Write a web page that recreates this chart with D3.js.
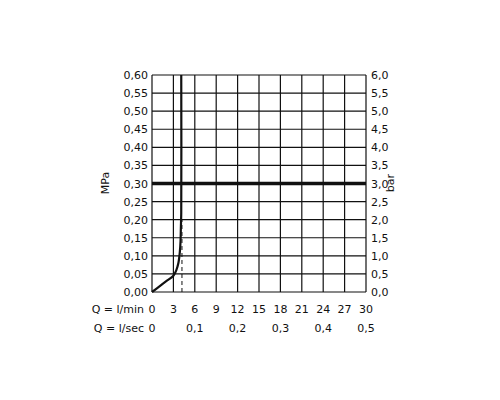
<!DOCTYPE html>
<html><head><meta charset="utf-8">
<script src="https://cdn.jsdelivr.net/npm/d3@7"></script>
<style>body{margin:0;background:#fff}text{font-family:"DejaVu Sans",sans-serif;font-size:11px;fill:#111}</style>
</head><body><div id="chart"></div>
<script>
const xTicks = [0, 3, 6, 9, 12, 15, 18, 21, 24, 27, 30]
const secTicks = [0, 0.1, 0.2, 0.3, 0.4, 0.5]
const yTicks = d3.range(0, 0.601, 0.05)
const curveQ = [0, 1, 2, 3, 3.4, 3.7, 3.9, 4.0, 4.05, 4.1, 4.1]
const curveP = [0, 0.015, 0.03, 0.045, 0.06, 0.08, 0.11, 0.14, 0.18, 0.22, 0.60]
const dashQ = 4.2
const refP = 0.30

const svg = d3.select("#chart").append("svg").attr("width", 500).attr("height", 400)
const x = d3.scaleLinear().domain([0, 30]).range([152, 366])
const y = d3.scaleLinear().domain([0, 0.6]).range([292, 75])
const fmt = d => d3.format(".2f")(d).replace(".", ",")
const fmt1 = d => d3.format(".1f")(d * 10).replace(".", ",")

svg.selectAll(".gx").data(xTicks).enter().append("line")
  .attr("x1", d => x(d)).attr("x2", d => x(d)).attr("y1", y(0)).attr("y2", y(0.6))
  .attr("stroke", "#111").attr("stroke-width", 1.2)
svg.selectAll(".gy").data(yTicks).enter().append("line")
  .attr("x1", x(0)).attr("x2", x(30)).attr("y1", d => y(d)).attr("y2", d => y(d))
  .attr("stroke", "#111").attr("stroke-width", 1.2)

svg.append("line").attr("x1", x(0)).attr("x2", x(30)).attr("y1", y(refP)).attr("y2", y(refP))
  .attr("stroke", "#111").attr("stroke-width", 3.5)
svg.append("line").attr("x1", x(dashQ)).attr("x2", x(dashQ)).attr("y1", y(0)).attr("y2", y(0.2))
  .attr("stroke", "#111").attr("stroke-width", 1).attr("stroke-dasharray", "4,3")

const line = d3.line().x((d, i) => x(curveQ[i])).y(d => y(d)).curve(d3.curveMonotoneY)
svg.append("path").datum(curveP).attr("d", d3.line().x((d, i) => x(curveQ[i])).y(d => y(d)).curve(d3.curveCatmullRom))
  .attr("fill", "none").attr("stroke", "#111").attr("stroke-width", 2.2)

svg.selectAll(".yl").data(yTicks).enter().append("text")
  .attr("x", 148).attr("y", d => y(d) + 4).attr("text-anchor", "end").text(fmt)
svg.selectAll(".yr").data(yTicks).enter().append("text")
  .attr("x", 371).attr("y", d => y(d) + 4).text(fmt1)

svg.append("text").attr("transform", "translate(109,183) rotate(-90)").attr("text-anchor", "middle").text("MPa")
svg.append("text").attr("transform", "translate(394,183) rotate(-90)").attr("text-anchor", "middle").text("bar")

svg.selectAll(".xl").data(xTicks).enter().append("text")
  .attr("x", d => x(d)).attr("y", 313).attr("text-anchor", "middle").text(d => d)
svg.append("text").attr("x", 144).attr("y", 313).attr("text-anchor", "end").text("Q = l/min")
svg.selectAll(".sl").data(secTicks).enter().append("text")
  .attr("x", d => x(d * 60)).attr("y", 332).attr("text-anchor", "middle").text(d => d === 0 ? "0" : String(d).replace(".", ","))
svg.append("text").attr("x", 144).attr("y", 332).attr("text-anchor", "end").text("Q = l/sec")
</script></body></html>
